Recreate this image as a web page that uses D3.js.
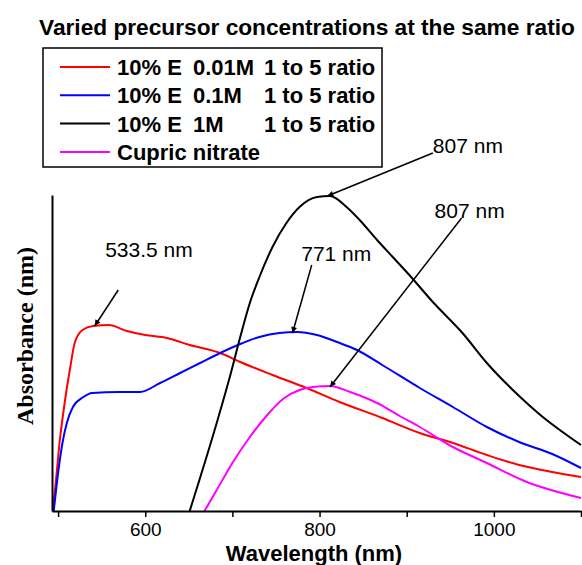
<!DOCTYPE html>
<html>
<head>
<meta charset="utf-8">
<script src="https://d3js.org/d3.v7.min.js"></script>
<style>
  body { margin: 0; background: #fff; }
  text { font-family: "Liberation Sans", Arial, sans-serif; fill: #000; }
</style>
</head>
<body>
<div class="canva"></div>
<script>
//data: [wavelength nm, absorbance a.u.]
const red01 = [[493,0],[496,0.18],[502,0.71],[508,1.11],[514,1.44],[519,1.68],[528,1.81],[540,1.85],
  [558,1.86],[579,1.80],[600,1.76],[625,1.73],[651,1.66],[686,1.58],[709,1.49],[746,1.36],[785,1.23],
  [823,1.09],[872,0.93],[915,0.78],[953,0.68],[992,0.56],[1029,0.46],[1067,0.39],[1100,0.34]];
const blue01 = [[495,0],[500,0.38],[505,0.68],[510,0.88],[517,1.04],[529,1.14],[539,1.18],[570,1.19],
  [594,1.19],[617,1.28],[640,1.38],[663,1.48],[686,1.58],[709,1.67],[731,1.74],[754,1.78],[774,1.79],
  [797,1.76],[820,1.69],[843,1.61],[872,1.46],[915,1.23],[953,1.04],[992,0.84],[1029,0.69],[1067,0.57],[1100,0.43]];
const black1 = [[651,0],[683,0.91],[697,1.34],[709,1.74],[720,2.08],[731,2.34],[746,2.64],[762,2.88],
  [777,3.04],[797,3.14],[812,3.15],[831,3.04],[846,2.91],[866,2.71],[884,2.54],[903,2.36],[930,2.09],
  [964,1.78],[992,1.48],[1029,1.15],[1052,0.97],[1100,0.66]];
const cupric = [[668,0],[682,0.21],[700,0.48],[720,0.74],[739,0.95],[758,1.12],[777,1.21],[792,1.24],
  [812,1.25],[835,1.19],[866,1.08],[892,0.95],[915,0.84],[953,0.64],[992,0.48],[1035,0.30],[1100,0.13]];

const seriesColors = ['#ff0000', '#0000ff', '#000000', '#ff00ff'];
const legendParts = [['10% E', '0.01M', '1 to 5 ratio'], ['10% E', '0.1M', '1 to 5 ratio'], ['10% E', '1M', '1 to 5 ratio'], ['Cupric nitrate']];

const xTicks = [500, 600, 700, 800, 900, 1000, 1100];
const xLabelled = [600, 800, 1000];

//peak labels: arrow tip, arrow tail, text anchor in data units
const annotLabels = ['533.5 nm', '771 nm', '807 nm', '807 nm'];
const annotTips = [[542,1.85], [769,1.78], [809,3.15], [812,1.24]];
const annotTails = [[569,2.21], [791,2.46], [930,3.58], [963,2.93]];
const annotText = [[554,2.54], [779,2.50], [930,3.58], [932,2.93]];

const svg = d3.select('.canva').append('svg')
              .attr('width', 582)
              .attr('height', 565);

//plot area
const margin = {top: 195, right: 1, bottom: 54, left: 52};
const graphWidth = 582 - margin.left - margin.right;
const graphHeight = 565 - margin.top - margin.bottom;

const x = d3.scaleLinear().domain([493, 1100]).range([margin.left, margin.left + graphWidth]);
const y = d3.scaleLinear().domain([0, 3.16]).range([margin.top + graphHeight, margin.top]);

//arrow head
svg.append('defs').append('marker')
   .attr('id', 'arrow')
   .attr('viewBox', '0 0 10 10')
   .attr('refX', 10).attr('refY', 5)
   .attr('markerWidth', 10).attr('markerHeight', 6)
   .attr('markerUnits', 'userSpaceOnUse')
   .attr('orient', 'auto')
   .append('path')
   .attr('d', 'M0,0 L10,5 L0,10 z')
   .attr('fill', '#000');

svg.append('clipPath').attr('id', 'clip')
   .append('rect')
   .attr('x', margin.left).attr('y', 0)
   .attr('width', graphWidth + 2).attr('height', margin.top + graphHeight);

//curves
const line = d3.line()
               .x(d => x(d[0]))
               .y(d => y(d[1]))
               .curve(d3.curveMonotoneX);

const allSeries = [red01, blue01, black1, cupric];
svg.append('g').attr('clip-path', 'url(#clip)')
   .selectAll('path')
   .data(allSeries)
   .enter().append('path')
   .attr('d', line)
   .attr('fill', 'none')
   .attr('stroke', (d, i) => seriesColors[i])
   .attr('stroke-width', 2);

//axes
const xAxis = d3.axisBottom(x)
                .tickValues(xTicks)
                .tickSize(6)
                .tickSizeOuter(0)
                .tickPadding(6)
                .tickFormat(d => xLabelled.includes(d) ? d : '');
const xAxisGroup = svg.append('g')
                      .attr('transform', `translate(0, ${margin.top + graphHeight})`)
                      .call(xAxis);
xAxisGroup.select('.domain').attr('stroke-width', 2);
xAxisGroup.selectAll('.tick line').attr('stroke-width', 1.5);
xAxisGroup.selectAll('text')
          .style('font-family', '"Liberation Sans", Arial, sans-serif')
          .style('font-size', '19px')
          .attr('fill', '#000');

const yAxisGroup = svg.append('g')
                      .attr('transform', `translate(${margin.left}, 0)`)
                      .call(d3.axisLeft(y).tickValues([]).tickSizeOuter(0));
yAxisGroup.select('.domain').attr('stroke-width', 2);

//axis titles
svg.append('text')
   .attr('x', 314).attr('y', 561)
   .attr('text-anchor', 'middle')
   .style('font-size', '22px').style('font-weight', 'bold')
   .text('Wavelength (nm)');

svg.append('text')
   .attr('transform', 'translate(33, 336) rotate(-90)')
   .attr('text-anchor', 'middle')
   .style('font-family', '"Liberation Serif", "Times New Roman", serif')
   .style('font-size', '24px').style('font-weight', 'bold')
   .text('Absorbance (nm)');

//title
svg.append('text')
   .attr('x', 39).attr('y', 35)
   .style('font-size', '22.7px').style('font-weight', 'bold')
   .text('Varied precursor concentrations at the same ratio');

//peak annotations
const annot = svg.append('g');
annotLabels.forEach((label, i) => {
    annot.append('line')
         .attr('x1', x(annotTails[i][0])).attr('y1', y(annotTails[i][1]))
         .attr('x2', x(annotTips[i][0])).attr('y2', y(annotTips[i][1]))
         .attr('stroke', '#000').attr('stroke-width', 1.5)
         .attr('marker-end', 'url(#arrow)');
    annot.append('text')
         .attr('x', x(annotText[i][0])).attr('y', y(annotText[i][1]))
         .style('font-size', '21px')
         .text(label);
});

//legend
const legend = svg.append('g');
legend.append('rect')
      .attr('x', 43).attr('y', 48)
      .attr('width', 339).attr('height', 119)
      .attr('fill', '#fff').attr('stroke', '#000').attr('stroke-width', 1.5);

const partX = [117, 193, 264];
legendParts.forEach((parts, i) => {
    const rowY = 75 + i * 28.3;
    legend.append('line')
          .attr('x1', 60).attr('x2', 110)
          .attr('y1', rowY - 8).attr('y2', rowY - 8)
          .attr('stroke', seriesColors[i]).attr('stroke-width', 2);
    const t = legend.append('text')
                    .attr('y', rowY)
                    .style('font-size', '22px').style('font-weight', 'bold');
    parts.forEach((p, j) => {
        t.append('tspan').attr('x', partX[j]).text(p);
    });
});
</script>
</body>
</html>
